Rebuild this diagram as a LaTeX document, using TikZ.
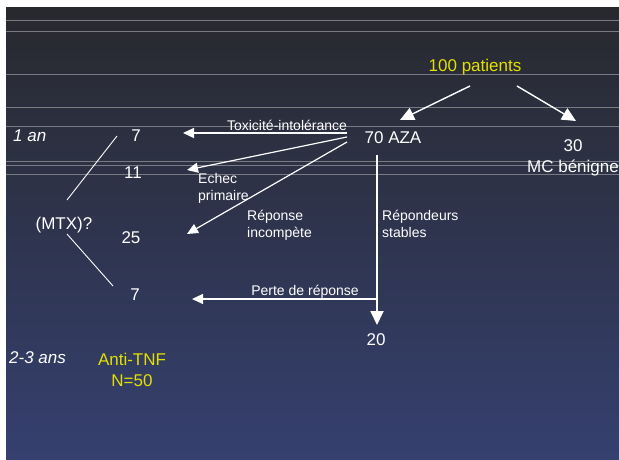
\documentclass[tikz,border=0pt]{standalone}
\usepackage{fontspec}
\setmainfont{Liberation Sans}
\usetikzlibrary{arrows.meta}

\definecolor{slideTop}{RGB}{40,41,46}
\definecolor{slideMid}{RGB}{46,49,70}
\definecolor{slideBot}{RGB}{53,64,111}
\definecolor{ruleGray}{RGB}{122,123,130}
\definecolor{titleYellow}{RGB}{228,224,0}

\begin{document}
\begin{tikzpicture}[x=1pt, y=-1pt,
    big/.style={text=white, font=\fontsize{17}{21}\selectfont, anchor=base, inner sep=0pt},
    yel/.style={big, text=titleYellow},
    ital/.style={big, anchor=base west, font=\fontsize{17}{21}\selectfont\itshape},
    small/.style={text=white, font=\fontsize{14}{16.5}\selectfont, anchor=base, inner sep=0pt},
    bigarr/.style={white, line width=1.4pt, -{Triangle[length=14pt, width=13pt]}},
    arr/.style={white, line width=1.2pt, -{Triangle[length=11pt, width=10pt]}},
    thin/.style={white, line width=0.9pt}]
        \useasboundingbox (0,0) rectangle (619,460);

        % slide background
        \fill[white] (0,0) rectangle (619,460);
        \shade[top color=slideTop, middle color=slideMid, bottom color=slideBot] (6,8) rectangle (619,460);
        \foreach \y in {20,31,74,107,126,161,165,174}
            \draw[ruleGray, line width=0.8pt] (6,\y) -- (619,\y);

        % counts (multi-line nodes sit on their last line)
        \node (pat) at (475,72)[yel] {100 patients};
        \node (aza) at (393,143)[big] {70 AZA};
        \node (mc) at (573,172)[big, align=center] {30\\MC bénigne};
        \node (an1) at (13,141)[ital] {1 an};
        \node (tox7) at (136,141)[big] {7};
        \node (ech11) at (133,178)[big] {11};
        \node (rep25) at (131,243)[big] {25};
        \node (mtx) at (64,229)[big] {(MTX)?};
        \node (per7) at (135,300)[big] {7};
        \node (st20) at (376,345)[big] {20};
        \node (an23) at (9,363)[ital] {2-3 ans};
        \node (tnf) at (132,386)[yel, align=center] {Anti-TNF\\N=50};

        % labels
        \node (ltox) at (287,130)[small] {Toxicité-intolérance};
        \node (lech) at (198,200)[small, anchor=base west, align=left] {Echec\\primaire};
        \node (lrep) at (247,237)[small, anchor=base west, align=left] {Réponse\\incompète};
        \node (lsta) at (382,237)[small, anchor=base west, align=left] {Répondeurs\\stables};
        \node (lper) at (305,295)[small] {Perte de réponse};

        % arrow ends
        \coordinate (patL) at (470,86);
        \coordinate (patR) at (517,86);
        \coordinate (azaIn) at (400,120);
        \coordinate (mcIn) at (576,121);
        \coordinate (azaT) at (347,133);
        \coordinate (azaE) at (347,137);
        \coordinate (azaR) at (347,142);
        \coordinate (toxIn) at (183,133);
        \coordinate (echIn) at (187,170);
        \coordinate (repIn) at (187,234);
        \coordinate (azaS) at (377,155);
        \coordinate (stIn) at (377,325);
        \coordinate (perOut) at (377,299);
        \coordinate (perIn) at (192,299);
        \coordinate (mtxUp) at (67,200);
        \coordinate (mtxDn) at (67,234);
        \coordinate (toxEnd) at (117,136);
        \coordinate (perEnd) at (113,286);

        \draw[bigarr] (patL) -- (azaIn);
        \draw[bigarr] (patR) -- (mcIn);
        \draw[arr] (azaT) -- (toxIn);
        \draw[arr] (azaE) -- (echIn);
        \draw[arr] (azaR) -- (repIn);
        \draw[bigarr, line width=1.8pt] (azaS) -- (stIn);
        \draw[arr] (perOut) -- (perIn);
        \draw[thin] (mtxUp) -- (toxEnd);
        \draw[thin] (mtxDn) -- (perEnd);
    \end{tikzpicture}
\end{document}
